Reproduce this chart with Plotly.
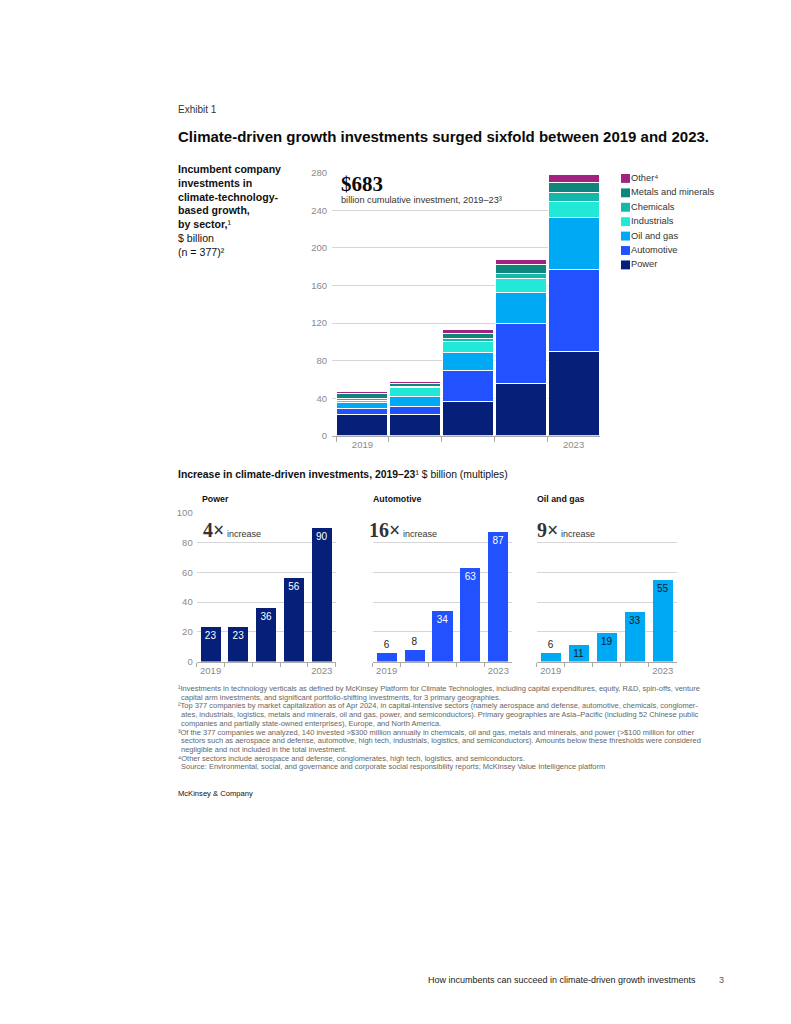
import plotly.graph_objects as go

W, H = 791, 1024

# ---------------- data ----------------
years = ["2019", "2020", "2021", "2022", "2023"]
year_ticktext = ["2019", "", "", "", "2023"]

power = [23, 23, 36, 56, 90]
automotive = [6, 8, 34, 63, 87]
oil_gas = [6, 11, 19, 33, 55]
industrials = [3, 9, 11, 15, 17]
chemicals = [2, 2, 4, 6, 10]
metals_minerals = [5, 3, 5, 9, 11]
other = [2, 2, 4, 6, 8]
totals = [47, 58, 113, 188, 278]

sector_names = ["Power", "Automotive", "Oil and gas", "Industrials",
                "Chemicals", "Metals and minerals", "Other"]
legend_labels = ["Other⁴", "Metals and minerals", "Chemicals", "Industrials",
                 "Oil and gas", "Automotive", "Power"]
sector_colors = ["#061F79", "#2251FF", "#00A9F4", "#22E8D8",
                 "#14B8A8", "#0F867B", "#A1237F"]

panel_titles = ["Power", "Automotive", "Oil and gas"]
panel_multiples = ["4×", "16×", "9×"]

footnotes = [
    ("¹Investments in technology verticals as defined by McKinsey Platform for Climate Technologies, including capital expenditures, equity, R&amp;D, spin-offs, venture", 0),
    ("capital arm investments, and significant portfolio-shifting investments, for 3 primary geographies.", 1),
    ("²Top 377 companies by market capitalization as of Apr 2024, in capital-intensive sectors (namely aerospace and defense, automotive, chemicals, conglomer-", 0),
    ("ates, industrials, logistics, metals and minerals, oil and gas, power, and semiconductors). Primary geographies are Asia–Pacific (including 52 Chinese public", 1),
    ("companies and partially state-owned enterprises), Europe, and North America.", 1),
    ("³Of the 377 companies we analyzed, 140 invested &gt;$300 million annually in chemicals, oil and gas, metals and minerals, and power (&gt;$100 million for other", 0),
    ("sectors such as aerospace and defense, automotive, high tech, industrials, logistics, and semiconductors). Amounts below these thresholds were considered", 1),
    ("negligible and not included in the total investment.", 1),
    ("⁴Other sectors include aerospace and defense, conglomerates, high tech, logistics, and semiconductors.", 0),
    ("Source: Environmental, social, and governance and corporate social responsibility reports; McKinsey Value Intelligence platform", 1),
]

FONT = "Liberation Sans"
SERIF = "Liberation Serif"


def px(x):
    return x / W


def py(y):
    return 1 - y / H


fig = go.Figure()

# ---------------- top stacked chart ----------------
series = [power, automotive, oil_gas, industrials, chemicals, metals_minerals, other]
for name, vals, col in zip(sector_names, series, sector_colors):
    fig.add_trace(go.Bar(
        x=years, y=vals, name=name, marker=dict(color=col, line=dict(color="white", width=1)),
        width=0.965, xaxis="x", yaxis="y", showlegend=False, hoverinfo="skip"))

annotations = []
for yr, t in zip(years, totals):
    annotations.append(dict(x=yr, y=t, xref="x", yref="y", text=f"<b>{t}</b>",
                            showarrow=False, yanchor="bottom", yshift=3,
                            font=dict(family=FONT, size=10.5, color="#111")))

# ---------------- small multiples ----------------
panel_series = [power, automotive, oil_gas]
panel_colors = ["#061F79", "#2251FF", "#00A9F4"]
inside_colors = ["white", "white", "#0a1a2a"]
for i, (vals, col) in enumerate(zip(panel_series, panel_colors)):
    ax = str(i + 2)
    positions = ["outside" if v < 10 else "inside" for v in vals]
    tcolors = ["#222" if p == "outside" else inside_colors[i] for p in positions]
    fig.add_trace(go.Bar(
        x=years, y=vals, marker=dict(color=col, line=dict(color=col, width=0)),
        width=0.72, xaxis="x" + ax, yaxis="y" + ax, showlegend=False,
        text=[str(v) for v in vals], textposition=positions, textangle=0,
        insidetextanchor="end", constraintext="none", cliponaxis=False,
        textfont=dict(family=FONT, size=10, color=tcolors),
        hoverinfo="skip"))

# ---------------- layout axes ----------------
grid_col = "#d6d6d6"
tick_font = dict(family=FONT, size=9.5, color="#8a8a8a")

layout = dict(
    width=W, height=H, autosize=False,
    margin=dict(l=0, r=0, t=0, b=0),
    paper_bgcolor="white", plot_bgcolor="white",
    barmode="stack", showlegend=False,
    font=dict(family=FONT),
    xaxis=dict(domain=[px(332), px(600)], type="category", range=[-0.576, 4.5],
               tickmode="array", tickvals=years, ticktext=year_ticktext, tickangle=0,
               tickson="boundaries", ticks="outside", ticklen=5, tickcolor="#aaa",
               showline=True, linecolor="#aaa", linewidth=1, showgrid=False,
               tickfont=tick_font, anchor="y", fixedrange=True),
    yaxis=dict(domain=[py(434.5), py(168.5)], range=[0, 280], tickvals=list(range(0, 281, 40)),
               showgrid=True, gridcolor=grid_col, gridwidth=1, zeroline=False,
               ticks="", tickfont=tick_font, anchor="x", ticklabelstandoff=4, fixedrange=True),
)

panel_domains = [(196.7, 335.7), (372.7, 512.3), (536.7, 676.7)]
for i, (x0, x1) in enumerate(panel_domains):
    ax = str(i + 2)
    layout["xaxis" + ax] = dict(domain=[px(x0), px(x1)], type="category", range=[-0.5, 4.5],
                                tickmode="array", tickvals=years, ticktext=year_ticktext, tickangle=0,
                                tickson="boundaries", ticks="outside", ticklen=4, tickcolor="#aaa",
                                showline=True, linecolor="#aaa", linewidth=1, showgrid=False,
                                tickfont=tick_font, anchor="y" + ax, fixedrange=True)
    layout["yaxis" + ax] = dict(domain=[py(662.7), py(512.2)], range=[0, 100], dtick=20,
                                showgrid=True, gridcolor=grid_col, gridwidth=1, zeroline=False,
                                ticks="", tickfont=tick_font, showticklabels=(i == 0),
                                anchor="x" + ax, ticklabelstandoff=3, fixedrange=True)

# ---------------- text annotations ----------------
def note(x, y, text, size, color="#222", xanchor="left", yanchor="middle", family=FONT, align="left"):
    annotations.append(dict(x=px(x), y=py(y), xref="paper", yref="paper", text=text,
                            showarrow=False, xanchor=xanchor, yanchor=yanchor, align=align,
                            font=dict(family=family, size=size, color=color)))


note(176, 105, "Exhibit 1", 10, "#333")
note(176, 132, "<b>Climate-driven growth investments surged sixfold between 2019 and 2023.</b>", 15, "#0b0b0b")

note(176, 157,
     "<b>Incumbent company<br>investments in<br>climate-technology-<br>based growth,<br>by sector,</b>¹"
     "<br>$ billion<br>(n = 377)²",
     10.6, "#111", yanchor="top")

note(339, 180, "<b>$683</b>", 21, "#0b0b0b", family=SERIF)
note(339, 196, "billion cumulative investment, 2019–23³", 9.2, "#333")

# legend (manual)
shapes = []
for i, (lab, col) in enumerate(zip(legend_labels, list(reversed(sector_colors)))):
    yc = 174.3 + i * 14.57
    shapes.append(dict(type="rect", xref="paper", yref="paper",
                       x0=px(621), x1=px(630), y0=py(yc + 4.5), y1=py(yc - 4.5),
                       fillcolor=col, line=dict(width=0)))
    note(629, yc - 0.5, lab, 9.3, "#333")

note(176, 474, "<b>Increase in climate-driven investments, 2019–23</b>¹ $ billion (multiples)", 10.4, "#111")

title_x = [200, 370.7, 534.7]
mult_x = [201, 367, 535]
for i in range(3):
    note(title_x[i], 498, f"<b>{panel_titles[i]}</b>", 8.8, "#111")
    note(mult_x[i], 530,
         f"<span style='font-family:{SERIF};font-size:20px'><b>{panel_multiples[i]}</b></span> increase",
         9, "#333", yanchor="middle")

for i, (line, indent) in enumerate(footnotes):
    note(176 + (3 if indent else 0), 690 + i * 8.8, line, 7.5, "#666")

note(176, 796, "McKinsey &amp; Company", 7.6, "#111")
note(698, 985, "How incumbents can succeed in climate-driven growth investments", 9, "#222", xanchor="right")
note(726, 985, "3", 9, "#555", xanchor="right")

layout["annotations"] = annotations
layout["shapes"] = shapes
fig.update_layout(**layout)

fig.write_html("out.html", config={"displayModeBar": False, "staticPlot": True},
               post_script="document.body.style.margin='0';document.body.style.overflow='hidden';")
